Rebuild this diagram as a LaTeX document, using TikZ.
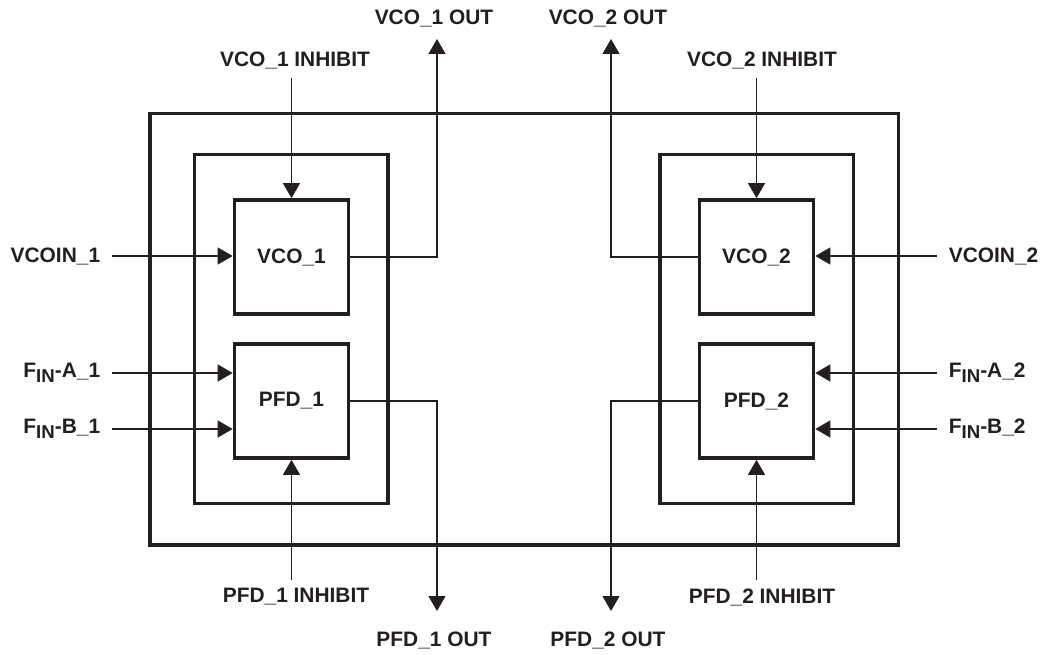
\documentclass[tikz,border=0pt]{standalone}
\usepackage{fontspec}
\setmainfont{Liberation Sans}
\usetikzlibrary{arrows.meta}
\definecolor{ink}{HTML}{231F20}
\newcommand{\fin}{F\raisebox{-2.8pt}{\fontsize{10.6}{12}\selectfont IN}}
\begin{document}
\begin{tikzpicture}[x=0.02cm,y=-0.02cm,
  every node/.style={font=\fontsize{11.9}{14}\selectfont\bfseries, text=ink},
  blk/.style={draw=ink, line width=2.1pt, minimum width=2.28cm, minimum height=2.28cm, inner sep=0pt},
  frame/.style={draw=ink, line width=2.2pt},
  wire/.style={draw=ink, line width=0.7pt},
  arr/.style={wire, -{Triangle[length=0.3cm,width=0.34cm]}},
  lbl/.style={inner sep=0pt},
  lin/.style={inner ysep=0pt, inner xsep=0.23cm}]
\useasboundingbox (0,0) rectangle (1045,655);
% frames
\draw[frame] (150,113.5) rectangle (898.5,545);
\draw[frame] (194.5,154.5) rectangle (388,503.5);
\draw[frame] (660,154.5) rectangle (853.5,503.5);
% blocks
\node[blk] (vco1) at (291.5,257) {VCO\_1};
\node[blk] (pfd1) at (291.5,401) {PFD\_1};
\node[blk] (vco2) at (756.5,257) {VCO\_2};
\node[blk] (pfd2) at (756.5,401) {PFD\_2};
% left input labels
\node[lin, anchor=east] (vcoin1) at (112,256) {VCOIN\_1};
\node[lin, anchor=east] (fa1) at (112,373) {\fin-A\_1};
\node[lin, anchor=east] (fb1) at (112,429) {\fin-B\_1};
% right input labels
\node[lin, anchor=west] (vcoin2) at (937,256) {VCOIN\_2};
\node[lin, anchor=west] (fa2) at (937,373) {\fin-A\_2};
\node[lin, anchor=west] (fb2) at (937,429) {\fin-B\_2};
% input wires
\draw[arr] (vcoin1.east) -- (vcoin1.east -| vco1.west);
\draw[arr] (fa1.east) -- (fa1.east -| pfd1.west);
\draw[arr] (fb1.east) -- (fb1.east -| pfd1.west);
\draw[arr] (vcoin2.west) -- (vcoin2.west -| vco2.east);
\draw[arr] (fa2.west) -- (fa2.west -| pfd2.east);
\draw[arr] (fb2.west) -- (fb2.west -| pfd2.east);
% top labels
\node[lbl] (vi1l) at (295,60) {VCO\_1 INHIBIT};
\node[lbl] (vo1l) at (434,18) {VCO\_1 OUT};
\node[lbl] (vo2l) at (608,18) {VCO\_2 OUT};
\node[lbl] (vi2l) at (762,60) {VCO\_2 INHIBIT};
% bottom labels
\node[lbl] (pi1l) at (296,597) {PFD\_1 INHIBIT};
\node[lbl] (po1l) at (434,640) {PFD\_1 OUT};
\node[lbl] (po2l) at (608,640) {PFD\_2 OUT};
\node[lbl] (pi2l) at (762,597) {PFD\_2 INHIBIT};
% free ends
\coordinate (vi1) at (291.5,78);
\coordinate (vi2) at (756.5,78);
\coordinate (vo1) at (437,39);
\coordinate (vo2) at (611,39);
\coordinate (pi1) at (291.5,580);
\coordinate (pi2) at (756.5,580);
\coordinate (po1) at (437,611);
\coordinate (po2) at (611,611);
% connectors
\draw[arr] (vi1) -- (vco1.north);
\draw[arr] (vi2) -- (vco2.north);
\draw[arr] (pi1) -- (pfd1.south);
\draw[arr] (pi2) -- (pfd2.south);
\draw[arr] (vco1.east) -| (vo1);
\draw[arr] (vco2.west) -| (vo2);
\draw[arr] (pfd1.east) -| (po1);
\draw[arr] (pfd2.west) -| (po2);
\end{tikzpicture}
\end{document}
